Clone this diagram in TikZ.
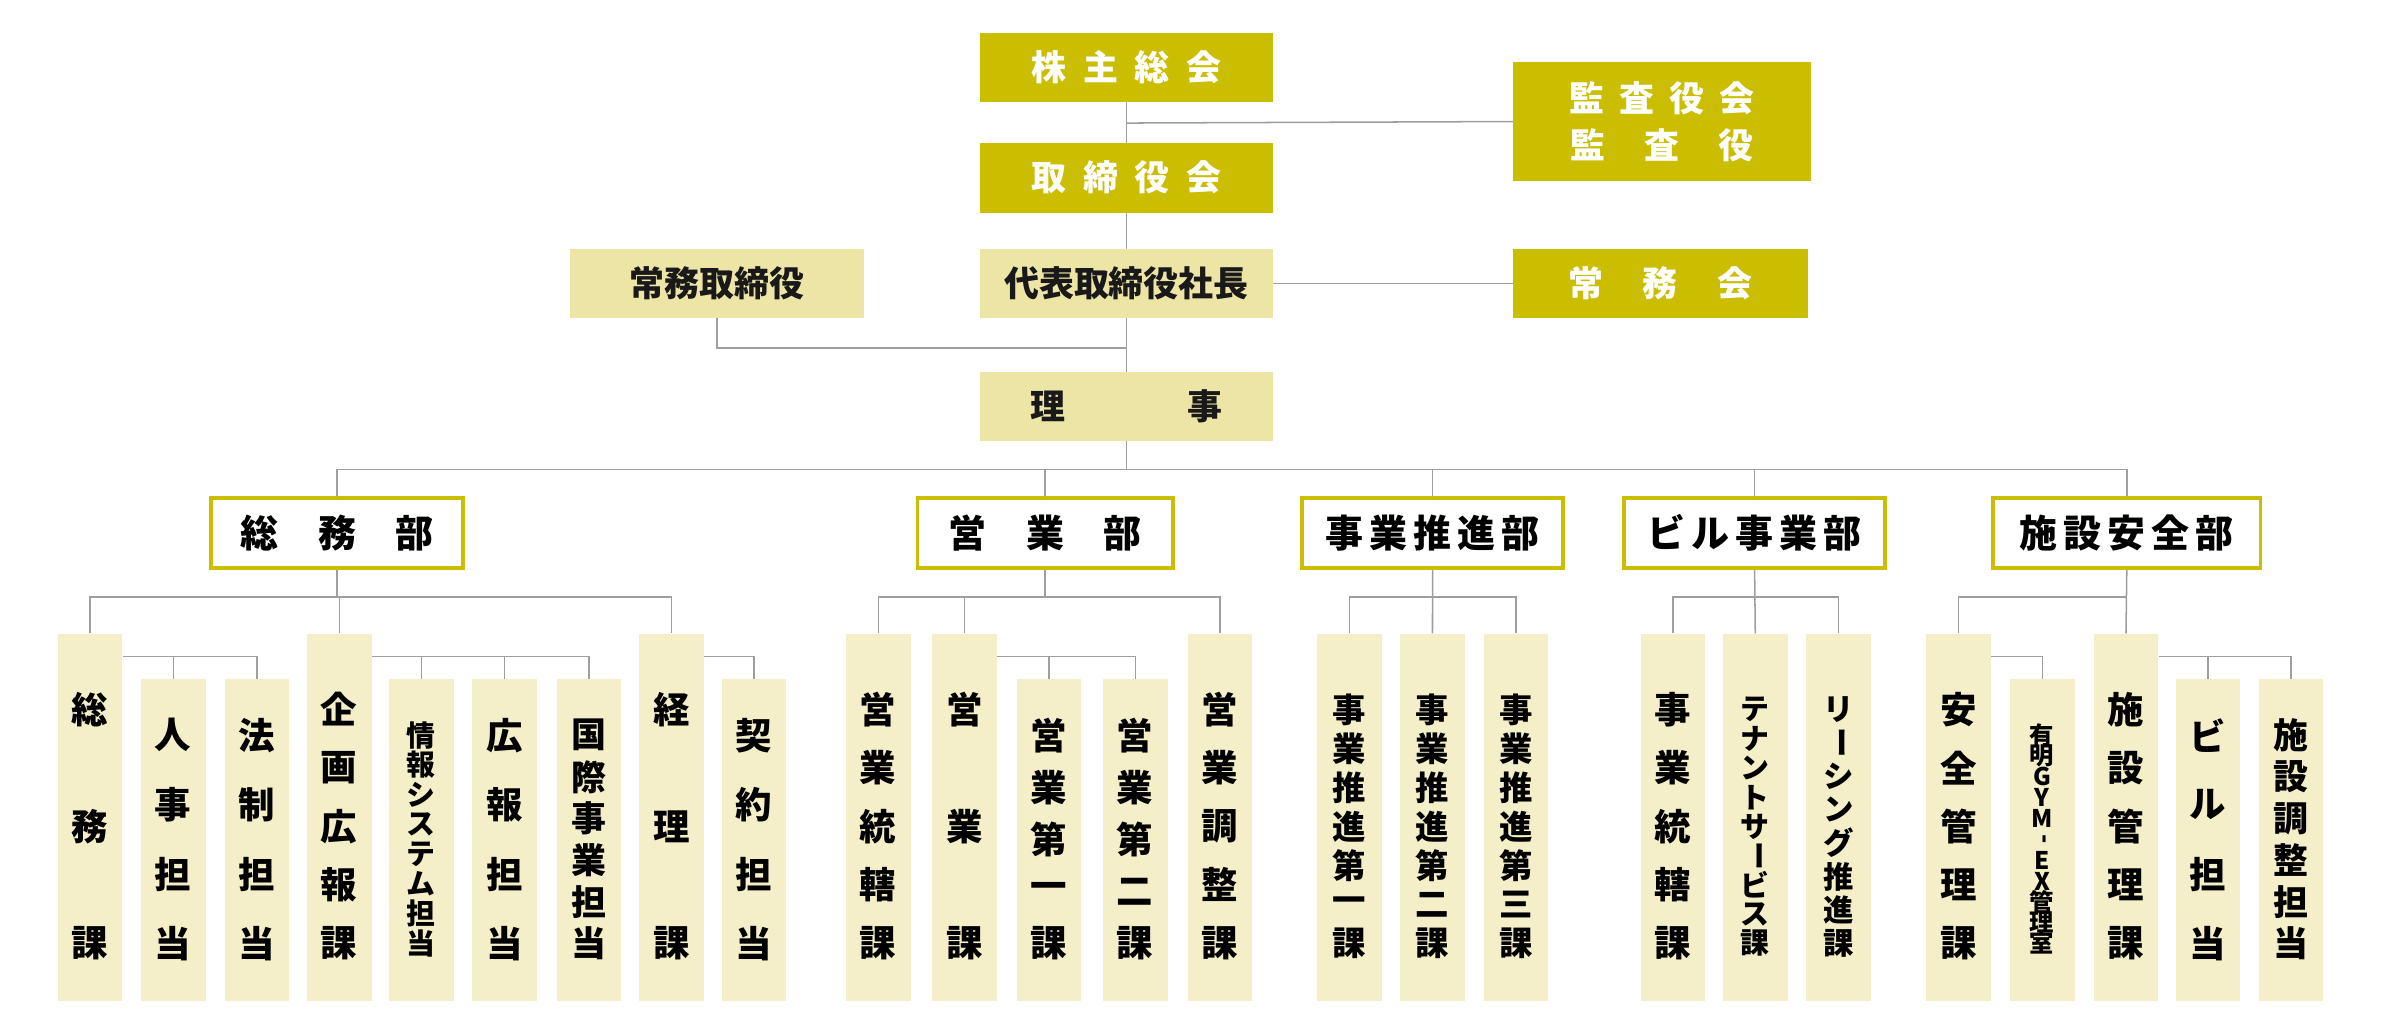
\documentclass[tikz,border=0pt]{standalone}
\usepackage{fontspec}
\newfontfamily\jp{Noto Sans CJK JP}
\definecolor{olv}{HTML}{CBBD00}
\definecolor{lite}{HTML}{EDE5A6}
\definecolor{pale}{HTML}{F4EFC8}
\definecolor{ln}{HTML}{9E9E9E}
\newcommand\fs[1]{\fontsize{#1}{#1}\selectfont}
\newcommand\kk{\kern11pt}
\newcommand\rr[1]{\rotatebox{-90}{#1}}
% column: name, xleft, top, firsty, fontsize, chars
\newcommand\col[6]{%
  \node[colbox,minimum height={659-#3},anchor=north west] (#1) at (#2,#3) {};
  \foreach \c [count=\i] in {#6} {\xdef\nn{\i}}
  \foreach \c [count=\i] in {#6} {
    \node[inner sep=0pt,font=\jp\bfseries\fs{#5}] (#1t\i) at ({#2+21.25},{#4+(\i-1)*(621-#4)/(\nn-1)}) {\c};
  }%
}
\begin{document}
\begin{tikzpicture}[x=1pt,y=-1pt,
  dark/.style={fill=olv,text=white,inner sep=0pt,font=\jp\bfseries\fs{23}},
  light/.style={fill=lite,text=black!90,inner sep=0pt,font=\jp\bfseries\fs{23}},
  dept/.style={draw=olv,line width=2.5pt,fill=white,inner sep=0pt,minimum height=46,font=\jp\bfseries\fs{25}},
  colbox/.style={fill=pale,minimum width=42.5,inner sep=0pt},
  con/.style={draw=ln,line width=1pt}]
\useasboundingbox (0,0) rectangle (1568,681);
% top
\node[dark,minimum width=193,minimum height=45] (kabu) at (741.5,44.5) {株\kk 主\kk 総\kk 会};
\node[dark,minimum width=196,minimum height=78,align=center] (kansa) at (1094,80) {監\kern10pt 査\kern10pt 役\kern10pt 会\\[8pt]監\kern26pt 査\kern26pt 役};
\node[dark,minimum width=193,minimum height=46] (tori) at (741.5,117) {取\kk 締\kk 役\kk 会};
\node[light,minimum width=194,minimum height=45] (jomu) at (472,186.5) {常務取締役};
\node[light,minimum width=193,minimum height=45] (daihyo) at (741.5,186.5) {代表取締役社長};
\node[dark,minimum width=194,minimum height=45] (jomukai) at (1093,186.5) {常\kern26pt 務\kern26pt 会};
\node[light,minimum width=193,minimum height=45] (riji) at (741.5,267.5) {理\kern80pt 事};
% departments
\node[dept,minimum width=166] (d1) at (222,351) {総\kern26pt 務\kern26pt 部};
\node[dept,minimum width=168] (d2) at (688,351) {営\kern26pt 業\kern26pt 部};
\node[dept,minimum width=172] (d3) at (943,351) {事\kern4pt 業\kern4pt 推\kern4pt 進\kern4pt 部};
\node[dept,minimum width=172] (d4) at (1155,351) {ビ\kern4pt ル\kern4pt 事\kern4pt 業\kern4pt 部};
\node[dept,minimum width=176] (d5) at (1400,351) {施\kern4pt 設\kern4pt 安\kern4pt 全\kern4pt 部};
% top connectors
\coordinate (ka) at (741.5,81);
\coordinate (jo) at (741.5,229);
\coordinate (bus) at (741.5,309);
\draw[con] (kabu) -- (tori);
\draw[con] (ka) -- (kansa.west);
\draw[con] (tori) -- (daihyo);
\draw[con] (daihyo) -- (riji);
\draw[con] (daihyo.east) -- (jomukai.west);
\draw[con] (jomu.south) |- (jo);
\draw[con] (riji.south) -- (bus);
\draw[con] (d1.north) |- (bus) -| (d5.north);
\draw[con] (d2.north) -- (d2.north |- bus);
\draw[con] (d3.north) -- (d3.north |- bus);
\draw[con] (d4.north) -- (d4.north |- bus);
% columns
\col{c1}{37.8}{417}{467}{24}{総,務,課}
\col{c2}{92.7}{447}{484}{24}{人,事,担,当}
\col{c3}{147.6}{447}{484}{24}{法,制,担,当}
\col{c4}{202}{417}{467}{24}{企,画,広,報,課}
\col{c5}{255.9}{447}{484}{19}{情,報,シ,ス,テ,ム,担,当}
\col{c6}{310.8}{447}{484}{24}{広,報,担,当}
\col{c7}{366.2}{447}{484}{23}{国,際,事,業,担,当}
\col{c8}{420.7}{417}{467}{24}{経,理,課}
\col{c9}{475}{447}{484}{24}{契,約,担,当}
\col{e1}{556.7}{417}{467}{24}{営,業,統,轄,課}
\col{e2}{613.6}{417}{467}{24}{営,業,課}
\col{e3}{669}{447}{484}{24}{営,業,第,一,課}
\col{e4}{726}{447}{484}{24}{営,業,第,二,課}
\col{e5}{781.5}{417}{467}{24}{営,業,調,整,課}
\col{j1}{867}{417}{467}{22}{事,業,推,進,第,一,課}
\col{j2}{921.5}{417}{467}{22}{事,業,推,進,第,二,課}
\col{j3}{976.6}{417}{467}{22}{事,業,推,進,第,三,課}
\col{b1}{1079.7}{417}{467}{24}{事,業,統,轄,課}
\col{b2}{1134}{417}{467}{19}{テ,ナ,ン,ト,サ,\rr{ー},ビ,ス,課}
\col{b3}{1188.8}{417}{467}{20}{リ,\rr{ー},シ,ン,グ,推,進,課}
\col{s1}{1267.9}{417}{467}{24}{安,全,管,理,課}
\col{s2}{1323}{447}{484}{16}{有,明,G,Y,M,\rr{-},E,X,管,理,室}
\col{s3}{1378}{417}{467}{24}{施,設,管,理,課}
\col{s4}{1432}{447}{484}{24}{ビ,ル,担,当}
\col{s5}{1486.6}{447}{484}{23}{施,設,調,整,担,当}
% sub connectors
\coordinate (m1) at (222,393);
\coordinate (m2) at (688,393);
\coordinate (m3) at (943,393);
\coordinate (m4) at (1155,393);
\coordinate (m5) at (1400,393);
\draw[con] (d1.south) -- (m1);
\draw[con] (c1.north) |- (m1) -| (c8.north);
\draw[con] (c4.north) -- (c4.north |- m1);
\draw[con] (c1.east |- 0,432) -| (c3.north);
\draw[con] (c2.north) -- (c2.north |- 0,432);
\draw[con] (c4.east |- 0,432) -| (c7.north);
\draw[con] (c5.north) -- (c5.north |- 0,432);
\draw[con] (c6.north) -- (c6.north |- 0,432);
\draw[con] (c8.east |- 0,432) -| (c9.north);
\draw[con] (d2.south) -- (m2);
\draw[con] (e1.north) |- (m2) -| (e5.north);
\draw[con] (e2.north) -- (e2.north |- m2);
\draw[con] (e2.east |- 0,432) -| (e4.north);
\draw[con] (e3.north) -- (e3.north |- 0,432);
\draw[con] (d3.south) -- (j2.north);
\draw[con] (j1.north) |- (m3) -| (j3.north);
\draw[con] (d4.south) -- (b2.north);
\draw[con] (b1.north) |- (m4) -| (b3.north);
\draw[con] (d5.south) -- (s3.north);
\draw[con] (s1.north) |- (m5);
\draw[con] (s1.east |- 0,432) -| (s2.north);
\draw[con] (s3.east |- 0,432) -| (s5.north);
\draw[con] (s4.north) -- (s4.north |- 0,432);
\end{tikzpicture}
\end{document}
